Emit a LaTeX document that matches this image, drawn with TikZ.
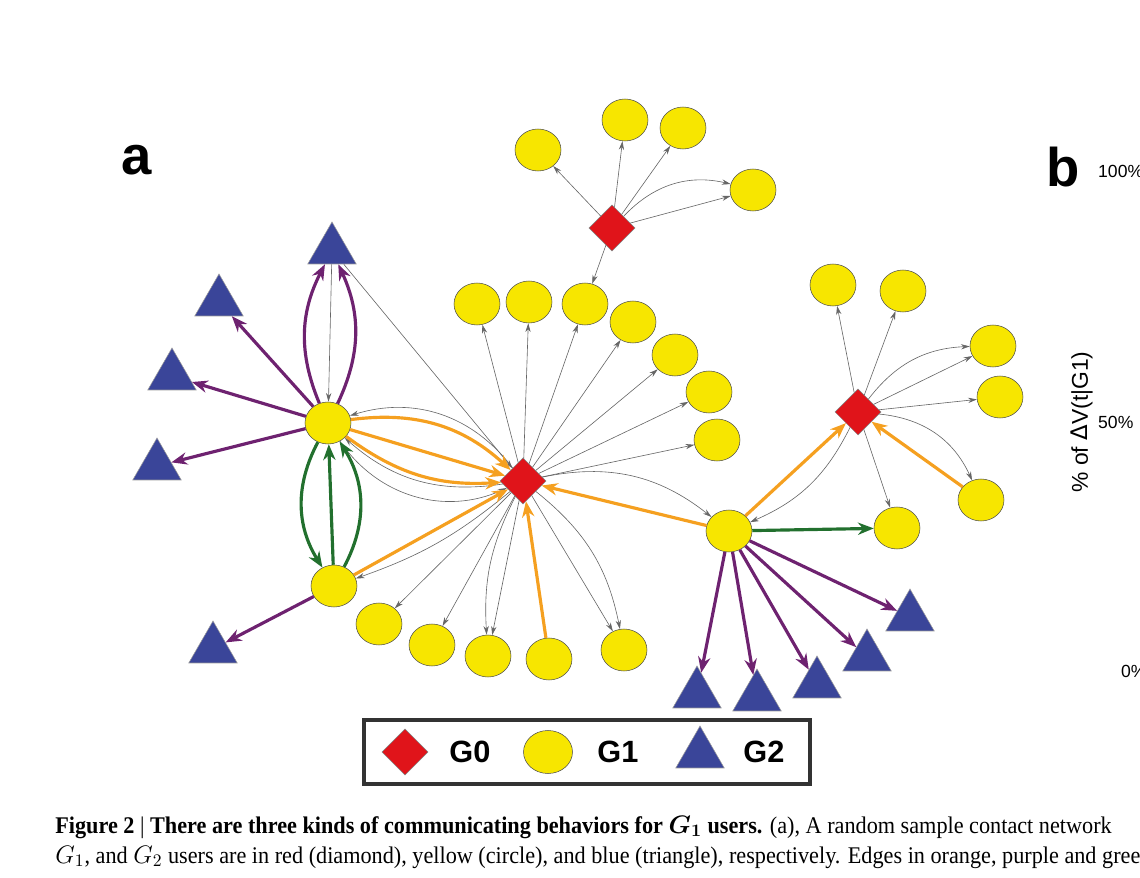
\documentclass[tikz,border=0pt]{standalone}
\usepackage{fontspec}
\setmainfont{Liberation Serif}
\setsansfont{Liberation Sans}
\usetikzlibrary{shapes.geometric,arrows.meta}
\definecolor{nred}{HTML}{E0141A}
\definecolor{nyel}{HTML}{F7E600}
\definecolor{nblue}{HTML}{3A4599}
\definecolor{eor}{HTML}{F5A020}
\definecolor{epu}{HTML}{6E2270}
\definecolor{egr}{HTML}{22702E}
\begin{document}
\begin{tikzpicture}[x=0.02cm,y=-0.02cm,
 yc/.style={ellipse,draw=black!70,line width=0.3pt,fill=nyel,minimum width=0.92cm,minimum height=0.84cm,inner sep=0pt},
 rd/.style={diamond,draw=black!50,line width=0.3pt,fill=nred,minimum width=0.92cm,minimum height=0.92cm,inner sep=0pt},
 bt/.style={regular polygon,regular polygon sides=3,draw=black!40,line width=0.3pt,fill=nblue,minimum size=1.12cm,inner sep=0pt},
 ge/.style={draw=black!60,line width=0.35pt,-{Stealth[length=5pt,width=3pt]}},
 oe/.style={draw=eor,line width=1.8pt,-{Stealth[length=9pt,width=7pt]}},
 pe/.style={draw=epu,line width=1.8pt,-{Stealth[length=9pt,width=7pt]}},
 gr/.style={draw=egr,line width=1.8pt,-{Stealth[length=9pt,width=7pt]}},
 lab/.style={font=\sffamily\bfseries\fontsize{31}{31}\selectfont},
 ax/.style={font=\sffamily\fontsize{10}{10}\selectfont},
 capt/.style={anchor=base west,font=\addfontfeatures{FakeStretch=0.93}\fontsize{13.6}{16}\selectfont,inner sep=0pt}]
\useasboundingbox (0,0) rectangle (1140,878);
\clip (0,0) rectangle (1140,878);
% nodes
\node[rd] (D0) at (612,228) {};
\node[rd] (D1) at (523,481) {};
\node[rd] (D2) at (858,412) {};
\node[yc] (T1) at (538,150) {};
\node[yc] (T2) at (625,120) {};
\node[yc] (T3) at (683,128) {};
\node[yc] (T4) at (753,190) {};
\node[yc] (C1) at (477,304) {};
\node[yc] (C2) at (529,302) {};
\node[yc] (C3) at (585,304) {};
\node[yc] (C4) at (633,322) {};
\node[yc] (C5) at (675,355) {};
\node[yc] (C6) at (709,392) {};
\node[yc] (C7) at (717,440) {};
\node[yc] (R1) at (833,285) {};
\node[yc] (R2) at (903,291) {};
\node[yc] (R3) at (993,346) {};
\node[yc] (R4) at (1000,397) {};
\node[yc] (R5) at (981,500) {};
\node[yc] (R6) at (897,528) {};
\node[yc] (Y1) at (328,423) {};
\node[yc] (Y2) at (334,586) {};
\node[yc] (Y3) at (729,531) {};
\node[yc] (B1) at (379,624) {};
\node[yc] (B2) at (432,645) {};
\node[yc] (B3) at (488,656) {};
\node[yc] (B4) at (549,659) {};
\node[yc] (B5) at (624,650) {};
\node[bt] (TA) at (332,250) {};
\node[bt] (TB) at (219,302) {};
\node[bt] (TC) at (172,376) {};
\node[bt] (TD) at (157,466) {};
\node[bt] (TE) at (213,649) {};
\node[bt] (TF) at (697,694) {};
\node[bt] (TG) at (757,697) {};
\node[bt] (TH) at (817,684) {};
\node[bt] (TI) at (867,657) {};
\node[bt] (TJ) at (910,617) {};
% gray edges
\draw[ge] (D0) -- (T1); \draw[ge] (D0) -- (T2); \draw[ge] (D0) -- (T3);
\draw[ge] (D0) -- (T4); \draw[ge] (D0) to[bend left=30] (T4);
\draw[ge] (D0) -- (C3);
\foreach \t in {C1,C2,C3,C4,C5,C6,C7,B1,B2,B3,B5} {\draw[ge] (D1) -- (\t);}
\draw[ge] (D1) to[bend left=20] (B5);
\draw[ge] (D1) to[bend right=15] (B3);
\draw[ge] (D1) to[bend right=35] (Y1);
\draw[ge] (D1) to[bend left=25] (Y1);
\draw[ge] (D1) to[bend left=10] (Y2);
\draw[ge] (D1) to[bend left=25] (Y3);
\draw[ge] (TA) -- (D1);
\draw[ge] (TA) -- (Y1);
\draw[ge] (Y1) to[bend right=40] (D1);
\foreach \t in {R1,R2,R3,R4,R6} {\draw[ge] (D2) -- (\t);}
\draw[ge] (D2) to[bend left=25] (R3);
\draw[ge] (D2) to[bend left=30] (R5);
\draw[ge] (D2) to[bend left=20] (Y3);
% orange
\draw[oe] (Y1) -- (D1);
\draw[oe] (Y1) to[bend left=25] (D1);
\draw[oe] (Y1) to[bend right=20] (D1);
\draw[oe] (Y2) -- (D1);
\draw[oe] (B4) -- (D1);
\draw[oe] (Y3) -- (D1);
\draw[oe] (Y3) -- (D2);
\draw[oe] (R5) -- (D2);
% purple
\draw[pe] (Y1) -- (TB); \draw[pe] (Y1) -- (TC); \draw[pe] (Y1) -- (TD);
\draw[pe] (Y1) to[bend left=25] (TA);
\draw[pe] (Y1) to[bend right=25] (TA);
\draw[pe] (Y2) -- (TE);
\foreach \t in {TF,TG,TH,TI,TJ} {\draw[pe] (Y3) -- (\t);}
% green
\draw[gr] (Y1) to[bend right=30] (Y2);
\draw[gr] (Y2) -- (Y1);
\draw[gr] (Y2) to[bend right=30] (Y1);
\draw[gr] (Y3) -- (R6);
% legend
\node[draw=black!80,line width=2pt,minimum width=8.92cm,minimum height=1.28cm,inner sep=0pt] (leg) at (587,752) {};
\node[rd,minimum width=0.92cm,minimum height=0.92cm] (LD) at (405,752) {};
\node[yc,minimum width=0.98cm,minimum height=0.86cm] (LY) at (548,752) {};
\node[bt] (LT) at (700,754) {};
\node[font=\sffamily\bfseries\fontsize{17.5}{17.5}\selectfont] (g0) at (470,752) {G0};
\node[font=\sffamily\bfseries\fontsize{17.5}{17.5}\selectfont] (g1) at (618,752) {G1};
\node[font=\sffamily\bfseries\fontsize{17.5}{17.5}\selectfont] (g2) at (764,752) {G2};
% labels
\node[lab] (la) at (137,160) {a};
\node[lab] (lb) at (1063,167) {b};
\node[ax,anchor=west] (p100) at (1092,171) {100\%};
\node[ax,anchor=west] (p50) at (1092,422) {50\%};
\node[ax,anchor=west] (p0) at (1115,671) {0\%};
\node[font=\sffamily\fontsize{13}{13}\selectfont,rotate=90] (yl) at (1082,422) {\% of {\fontspec{DejaVu Sans}Δ}V(t|G1)};
% caption
\node[capt] (cap1) at (55,833)
 {\textbf{Figure 2} \textbar\ \textbf{There are three kinds of communicating behaviors for \boldmath$G_1$ users.} (a), A random sample contact network};
\node[capt] (cap2) at (55,863)
 {$G_1$, and $G_2$ users are in red (diamond), yellow (circle), and blue (triangle), respectively. Edges in orange, purple and green};
\end{tikzpicture}
\end{document}
